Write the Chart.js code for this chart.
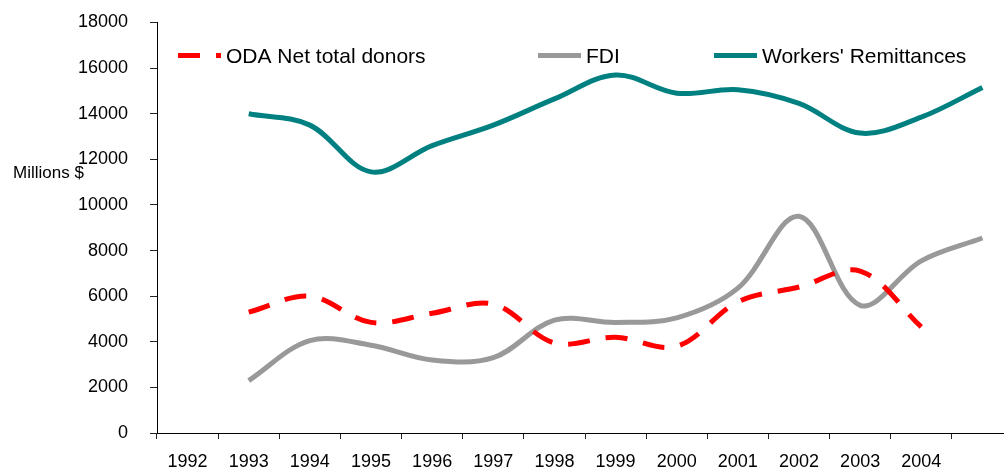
<!DOCTYPE html>
<html>
<head>
<meta charset="utf-8">
<script src="https://cdn.jsdelivr.net/npm/chart.js@4.4.1/dist/chart.umd.min.js"></script>
<style>
  html, body { margin: 0; padding: 0; background: #fff; overflow: hidden; }
  #wrap { position: relative; width: 1014px; height: 470px; }
  #yTitle {
    position: absolute; left: 13px; top: 163px;
    font: 17px 'Liberation Sans', Arial, sans-serif; color: #000; white-space: nowrap;
  }
</style>
</head>
<body>
<div id="wrap">
  <canvas id="flowsChart"></canvas>
  <div id="yTitle">Millions $</div>
</div>
<script>
// categories (last slot has no label in the original)
const years = ['1992', '1993', '1994', '1995', '1996', '1997', '1998', '1999', '2000', '2001', '2002', '2003', '2004', ''];

// values, millions $
const odaNet      = [null, 5300, 6000, 4850, 5250, 5650, 3950, 4200, 3800, 5750, 6400, 7100, 4650, null];
const fdi         = [null, 2300, 4050, 3850, 3200, 3300, 4950, 4850, 5050, 6350, 9500, 5600, 7550, 8550];
const remittances = [null, 14000, 13500, 11450, 12600, 13500, 14650, 15700, 14900, 15050, 14450, 13150, 13850, 15150];

const yTicks = [0, 2000, 4000, 6000, 8000, 10000, 12000, 14000, 16000, 18000];

const FONT = "'Liberation Sans', Arial, sans-serif";

// legend drawn inside the plot, like the Excel original
const legendInPlot = {
  id: 'legendInPlot',
  afterDraw(chart) {
    const ctx = chart.ctx;
    const slots = [178, 538, 714]; // sample start x for each series
    const y = 55.5;
    ctx.save();
    chart.data.datasets.forEach((ds, i) => {
      const x0 = slots[i];
      ctx.beginPath();
      ctx.setLineDash(ds.borderDash || []);
      ctx.lineWidth = ds.borderWidth;
      ctx.strokeStyle = ds.borderColor;
      ctx.moveTo(x0, y);
      ctx.lineTo(x0 + 43, y);
      ctx.stroke();
      ctx.setLineDash([]);
      ctx.fillStyle = '#000';
      ctx.font = '21px ' + FONT;
      ctx.textBaseline = 'alphabetic';
      ctx.fillText(ds.label, x0 + 48, 62.5);
    });
    ctx.restore();
  }
};

new Chart(document.getElementById('flowsChart'), {
  type: 'line',
  data: {
    labels: years,
    datasets: [
      {
        label: 'ODA Net total donors',
        data: odaNet,
        borderColor: '#FF0000',
        borderWidth: 5,
        borderDash: [22, 16],
        pointRadius: 0,
        tension: 0.35,
        spanGaps: false
      },
      {
        label: 'FDI',
        data: fdi,
        borderColor: '#999999',
        borderWidth: 5,
        pointRadius: 0,
        tension: 0.35
      },
      {
        label: "Workers' Remittances",
        data: remittances,
        borderColor: '#008080',
        borderWidth: 5,
        pointRadius: 0,
        tension: 0.35
      }
    ]
  },
  options: {
    responsive: true,
    maintainAspectRatio: false,
    animation: false,
    layout: { padding: { top: 22.5, right: 1, left: 0, bottom: 0 } },
    plugins: {
      legend: { display: false },
      tooltip: { enabled: false }
    },
    scales: {
      x: {
        type: 'category',
        offset: true,
        grid: {
          offset: true,
          drawOnChartArea: false,
          drawTicks: true,
          tickLength: 6,
          color: '#222'
        },
        border: { color: '#000', width: 1 },
        ticks: {
          color: '#000',
          font: { family: FONT, size: 18 },
          padding: 12,
          maxRotation: 0,
          autoSkip: false
        },
        afterFit(scale) { scale.height = 37; }
      },
      y: {
        min: 0,
        max: 18000,
        afterBuildTicks(scale) { scale.ticks = yTicks.map(v => ({ value: v })); },
        grid: {
          drawOnChartArea: false,
          drawTicks: true,
          tickLength: 7,
          color: '#222'
        },
        border: { color: '#000', width: 1 },
        ticks: {
          color: '#000',
          font: { family: FONT, size: 18 },
          padding: 22,
          callback: v => String(v)
        },
        afterFit(scale) {
          scale.width = 157;
          scale.paddingTop = 0;
          scale.paddingBottom = 0;
        }
      }
    }
  },
  plugins: [legendInPlot]
});
</script>
</body>
</html>
